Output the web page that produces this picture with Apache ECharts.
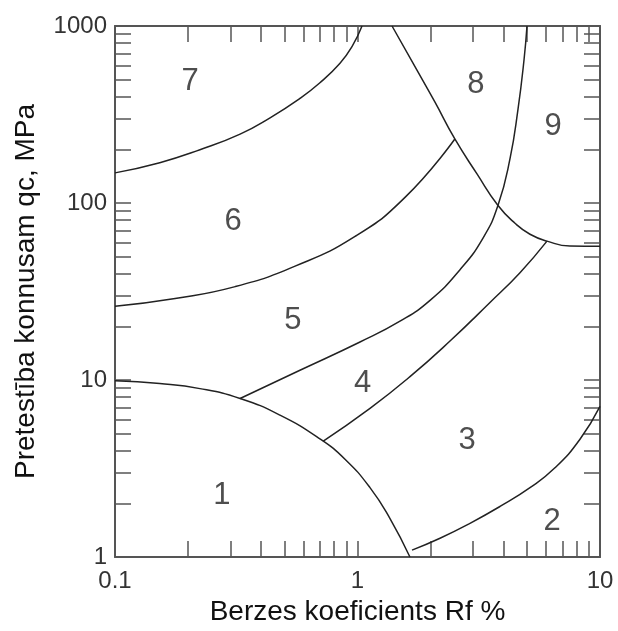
<!DOCTYPE html>
<html>
<head>
<meta charset="utf-8">
<script src="https://cdn.jsdelivr.net/npm/echarts@6/dist/echarts.min.js"></script>
<style>
html, body { margin: 0; background: #fff; }
#chart { width: 618px; height: 631px; }
</style>
</head>
<body>
<div id="chart"></div>
<script>
// tick values of the log axes
const xTicks = [0.1, 0.2, 0.3, 0.4, 0.5, 0.6, 0.7, 0.8, 0.9, 1, 2, 3, 4, 5, 6, 7, 8, 9, 10]
const yTicks = [1, 2, 3, 4, 5, 6, 7, 8, 9, 10, 20, 30, 40, 50, 60, 70, 80, 90,
	100, 200, 300, 400, 500, 600, 700, 800, 900, 1000]
const xLabels = [0.1, 1, 10]
const yLabels = [1, 10, 100, 1000]

// zone boundaries, [Rf %, qc MPa]
const line1 = [[0.1, 9.9], [0.153, 9.54], [0.224, 8.94], [0.328, 7.86], [0.479, 6.33], [0.70, 4.65],
	[0.888, 3.57], [1.126, 2.465], [1.36, 1.653], [1.645, 1.0]]
const line45 = [[0.328, 7.86], [0.579, 11.35], [1.024, 16.4], [1.497, 21.5], [1.991, 28.2], [2.647, 42.0],
	[3.293, 63.4], [3.797, 97.0], [4.255, 178], [4.591, 339], [4.861, 645], [5.0, 1000]]
const line56 = [[0.1, 26.1], [0.177, 28.9], [0.313, 33.7], [0.553, 44.0], [0.977, 64.8], [1.57, 107.6],
	[2.52, 230]]
const line8 = [[1.388, 1000], [1.726, 589], [2.087, 371], [2.52, 230], [3.11, 146], [3.797, 96.8],
	[4.462, 76.8], [5.144, 66.6], [6.045, 60.9], [7.52, 57.1], [10, 56.9]]
const line34 = [[0.72, 4.5], [1.126, 6.91], [1.646, 10.44], [2.407, 16.6], [3.518, 27.4], [4.678, 40.4],
	[6.045, 60.9]]
const line23 = [[1.678, 1.094], [2.189, 1.277], [2.91, 1.55], [3.87, 1.93], [5.144, 2.465], [6.52, 3.19],
	[8.27, 4.63], [10, 7.09]]
const line67 = [[0.1, 148], [0.153, 169], [0.224, 200], [0.328, 245], [0.436, 303], [0.579, 390],
	[0.70, 478], [0.847, 616], [0.949, 765], [1.044, 1000]]

// zone numbers
const zoneNames = ['1', '2', '3', '4', '5', '6', '7', '8', '9']
const zoneX = [0.276, 6.34, 2.83, 1.05, 0.542, 0.307, 0.204, 3.08, 6.4]
const zoneY = [2.22, 1.59, 4.58, 9.5, 21.8, 78.9, 486, 468, 269]

const font = 'Liberation Sans, Arial, sans-serif'
const frameColor = '#555'

function logAxis(ticks, labels, pos, extra) {
	return Object.assign({
		type: 'log',
		logBase: 10,
		position: pos,
		axisLine: { show: true, lineStyle: { color: frameColor, width: 2 } },
		axisTick: {
			show: true,
			inside: true,
			length: 16,
			customValues: ticks,
			lineStyle: { color: frameColor, width: 1.5 }
		},
		axisLabel: {
			show: !!labels,
			customValues: labels || undefined,
			margin: pos === 'bottom' ? 12 : 8,
			fontFamily: font,
			fontSize: 24,
			color: '#333',
			formatter: v => String(+(+v).toPrecision(6))
		},
		splitLine: { show: false },
		minorTick: { show: false }
	}, extra)
}

function curve(data) {
	return {
		type: 'line',
		data: data,
		smooth: 0.5,
		showSymbol: false,
		symbol: 'none',
		lineStyle: { color: '#222', width: 1.5 },
		silent: true
	}
}

const chart = echarts.init(document.getElementById('chart'))

chart.setOption({
	animation: false,
	grid: { left: 115, right: 18, top: 26, bottom: 69 },
	xAxis: [
		logAxis(xTicks, xLabels, 'bottom', {
			min: 0.1, max: 10,
			name: 'Berzes koeficients Rf %',
			nameLocation: 'middle',
			nameGap: 41,
			nameTextStyle: { fontFamily: font, fontSize: 28, color: '#111' }
		}),
		logAxis(xTicks, null, 'top', { min: 0.1, max: 10 })
	],
	yAxis: [
		logAxis(yTicks, yLabels, 'left', {
			min: 1, max: 1000,
			name: 'Pretestība konnusam qc, MPa',
			nameLocation: 'middle',
			nameGap: 75,
			nameTextStyle: { fontFamily: font, fontSize: 28, color: '#111' }
		}),
		logAxis(yTicks, null, 'right', { min: 1, max: 1000 })
	],
	series: [
		curve(line1),
		curve(line45),
		curve(line56),
		curve(line8),
		curve(line34),
		curve(line23),
		curve(line67),
		{
			type: 'scatter',
			symbolSize: 1,
			itemStyle: { color: 'transparent' },
			data: zoneX.map((x, i) => [x, zoneY[i], zoneNames[i]]),
			label: {
				show: true,
				position: 'inside',
				formatter: p => p.data[2],
				fontFamily: font,
				fontSize: 31,
				color: '#222'
			},
			silent: true
		}
	]
})
</script>
</body>
</html>
